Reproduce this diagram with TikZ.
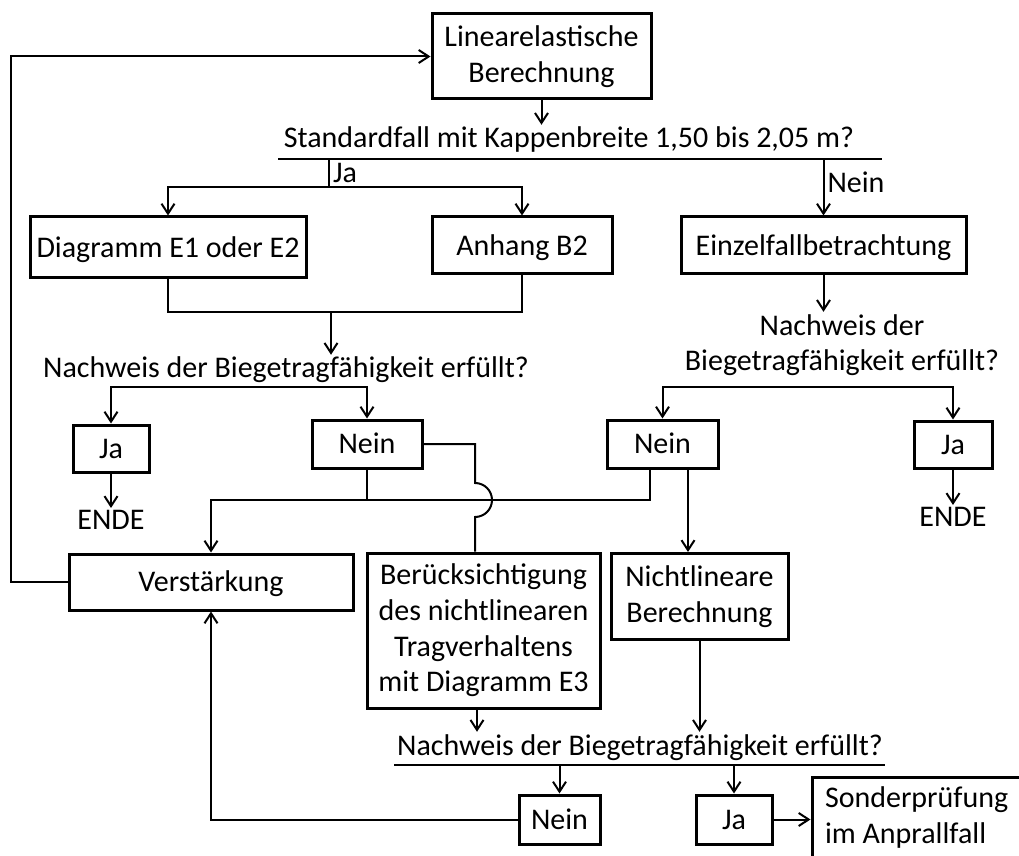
\documentclass[tikz,border=0pt]{standalone}
\usepackage{fontspec}
\setmainfont{Carlito}
\usetikzlibrary{arrows.meta,positioning,calc}
\tikzset{
  box/.style  = {rectangle, draw=black, line width=1.5pt, align=center, inner sep=0pt,
                 font=\fontsize{15}{17.8}\selectfont},
  box1/.style = {box, text height=9.7pt, text depth=0pt},
  txt/.style  = {align=center, inner xsep=0pt, inner ysep=1pt,
                 font=\fontsize{15}{17.8}\selectfont},
  lab/.style  = {inner sep=1.5pt, font=\fontsize{15}{17.8}\selectfont},
  ln/.style   = {line width=1pt},
  fl/.style   = {-{Straight Barb[length=5pt,width=6.5pt]}, line width=1pt},
  flb/.style  = {{Straight Barb[length=5pt,width=6.5pt]}-{Straight Barb[length=5pt,width=6.5pt]},
                 line width=1pt},
}

\begin{document}
\begin{tikzpicture}[x=0.5pt,y=-0.5pt]
  \useasboundingbox (0,0) rectangle (1019,856);

  % boxes
  \node[box, minimum width=109.5pt, minimum height=42.5pt] (lin) at (541.5,56.5) {Linearelastische\\Berechnung};
  \node[box1, minimum width=138pt, minimum height=30.5pt] (diag) at (168,247.5) {Diagramm E1 oder E2};
  \node[box1, minimum width=90pt, minimum height=28.5pt] (anh) at (522,245.5) {Anhang B2};
  \node[box1, minimum width=142.5pt, minimum height=28.5pt] (einz) at (823.5,245.5) {Einzelfallbetrachtung};
  \node[box1, minimum width=38pt, minimum height=23.5pt] (ja1) at (111,448.5) {Ja};
  \node[box1, minimum width=55pt, minimum height=24pt] (nein1) at (367,444) {Nein};
  \node[box1, minimum width=55.5pt, minimum height=24pt] (nein2) at (662.5,444) {Nein};
  \node[box1, minimum width=39pt, minimum height=23.5pt] (ja2) at (953,444.5) {Ja};
  \node[box1, minimum width=142pt, minimum height=28pt] (verst) at (211,582) {Verstärkung};
  \node[box, minimum width=116.5pt, minimum height=77.5pt] (berueck) at (483.5,630.5)
    {Berücksichtigung\\des nichtlinearen\\Tragverhaltens\\mit Diagramm E3};
  \node[box, minimum width=88.5pt, minimum height=43pt] (nicht) at (699.5,596.5) {Nichtlineare\\Berechnung};
  \node[box1, minimum width=40.5pt, minimum height=24.5pt] (nein3) at (559.5,819.5) {Nein};
  \node[box1, minimum width=38pt, minimum height=24.5pt] (ja3) at (734,819.5) {Ja};
  \node[box, minimum width=114pt, minimum height=40.5pt, text width=101pt, align=flush left,
        inner xsep=6.5pt] (sonder) at (926,817.5) {Sonderprüfung\\im Anprallfall};

  % questions and ends
  \node[txt, anchor=base] (q1) at (569,148) {Standardfall mit Kappenbreite 1,50 bis 2,05 m?};
  \node[txt, anchor=base] (q2) at (286,378) {Nachweis der Biegetragfähigkeit erfüllt?};
  \node[txt] (q3) at (842,345) {Nachweis der\\Biegetragfähigkeit erfüllt?};
  \node[txt, anchor=base] (q4) at (640,755) {Nachweis der Biegetragfähigkeit erfüllt?};
  \node[txt] (ende1) at (111,520) {ENDE};
  \node[txt] (ende2) at (953,517) {ENDE};

  \coordinate (u1a) at (278,159.5);
  \coordinate (u1b) at (882,159.5);
  \coordinate (ja) at (329,187);
  \coordinate (m1) at (331,312);
  \coordinate (b2) at (240,387);
  \coordinate (b3) at (800,387);
  \coordinate (j) at (475,500);
  \coordinate (u4a) at (394,765);
  \coordinate (u4b) at (885,765);

  % top part
  \draw[fl] (lin) -- (lin.south |- q1.north);
  \draw[ln] (u1a) -- (u1b);
  \draw[ln] (ja |- u1a) -- node[lab, right]{Ja} (ja);
  \draw[fl] (ja) -| (diag); \draw[fl] (ja) -| (anh);
  \draw[fl] (einz |- u1a) -- node[lab, right, pos=0.4]{Nein} (einz);
  \draw[ln] (diag) |- (m1) -| (anh);
  \draw[fl] (m1) -- (m1 |- q2.north);
  \draw[fl] (einz) -- (einz.south |- q3.north);

  % first checks
  \draw[flb] (ja1) |- (b2) -| (nein1);
  \draw[flb] (nein2) |- (b3) -| (ja2);
  \draw[fl] (ja1) -- (ende1);
  \draw[fl] (ja2) -- (ende2);
  \draw[ln] (nein1.east) -| ([yshift=8.5pt]j) arc[start angle=90, end angle=-90, radius=8.5pt]
    -- (j |- berueck.north);
  \draw[ln] (nein1) -- (nein1 |- j);
  \draw[fl] ([xshift=-6.25pt]nein2.south) |- (verst.north |- j) -- (verst);
  \draw[fl] ([xshift=12.75pt]nein2.south) -- ([xshift=12.75pt]nein2.south |- nicht.north);
  \draw[fl] (verst.west) -- ++(-57,0) |- (lin);

  % bottom part
  \draw[fl] ([xshift=-3.25pt]berueck.south) -- ([xshift=-3.25pt]berueck.south |- q4.north);
  \draw[fl] (nicht) -- (nicht.south |- q4.north);
  \draw[ln] (u4a) -- (u4b);
  \draw[fl] (nein3 |- u4a) -- (nein3);
  \draw[fl] (ja3 |- u4a) -- (ja3);
  \draw[fl] (ja3.east) -- (ja3.east -| sonder.west);
  \draw[fl] (nein3) -| (verst);
\end{tikzpicture}
\end{document}
